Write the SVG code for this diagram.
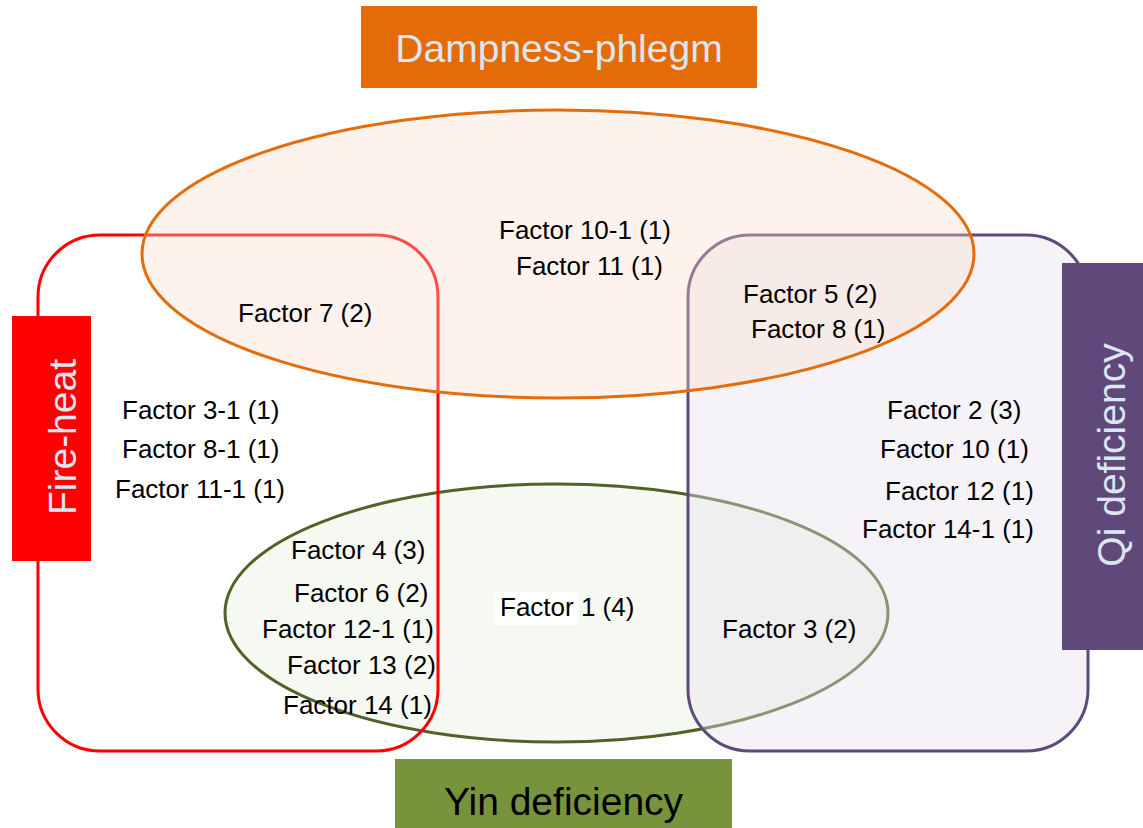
<svg xmlns="http://www.w3.org/2000/svg" width="1143" height="828" viewBox="0 0 1143 828">
<style>
.f{font-family:"Liberation Sans",Arial,sans-serif;font-size:26px;fill:#000}
.lbl{font-family:"Liberation Sans",Arial,sans-serif;font-size:39px}
.light{fill:#dce6f2}
</style>
<rect width="1143" height="828" fill="#fff"/>
<g id="yin-set">
<ellipse cx="556.5" cy="613" rx="331.5" ry="129" fill="#f6f9f1" stroke="#4f6228" stroke-width="3"/>
</g>
<g id="fire-set">
<rect x="38" y="235" width="400" height="516" rx="62" ry="62" fill="none" stroke="#ff0000" stroke-width="3"/>
</g>
<g id="qi-set">
<rect x="688" y="235" width="400" height="516" rx="62" ry="62" fill="#e6e2ee" fill-opacity="0.4" stroke="#5f497a" stroke-width="3"/>
</g>
<g id="damp-set">
<ellipse cx="558" cy="254" rx="416" ry="144" fill="#f9dec8" fill-opacity="0.35" stroke="#e46c0a" stroke-width="3"/>
</g>
<g id="connectors"/>
<g id="damp-label">
<rect x="361" y="6" width="396" height="82" fill="#e36c09"/>
<text class="lbl light" x="559" y="62" text-anchor="middle">Dampness-phlegm</text>
</g>
<g id="fire-label">
<rect x="12" y="316" width="79" height="245" fill="#ff0000"/>
<text class="lbl light" font-size="38" text-anchor="middle" transform="translate(76,437) rotate(-90)">Fire-heat</text>
</g>
<g id="qi-label">
<rect x="1062" y="263" width="81" height="387" fill="#5f497a"/>
<text class="lbl light" text-anchor="middle" transform="translate(1125,455) rotate(-90)">Qi deficiency</text>
</g>
<g id="yin-label">
<rect x="395" y="759" width="337" height="69" fill="#77933c"/>
<text class="lbl" fill="#000" x="563.5" y="815" text-anchor="middle">Yin deficiency</text>
</g>
<g id="factors">
<text class="f" x="499" y="239">Factor 10-1 (1)</text>
<text class="f" x="516" y="275">Factor 11 (1)</text>
<text class="f" x="238" y="322">Factor 7 (2)</text>
<text class="f" x="743" y="303">Factor 5 (2)</text>
<text class="f" x="751" y="338">Factor 8 (1)</text>
<text class="f" x="122" y="419">Factor 3-1 (1)</text>
<text class="f" x="122" y="458">Factor 8-1 (1)</text>
<text class="f" x="115" y="498">Factor 11-1 (1)</text>
<text class="f" x="291" y="559">Factor 4 (3)</text>
<text class="f" x="294" y="602">Factor 6 (2)</text>
<text class="f" x="262" y="638">Factor 12-1 (1)</text>
<text class="f" x="287" y="674">Factor 13 (2)</text>
<text class="f" x="283" y="714">Factor 14 (1)</text>
<rect x="494" y="592" width="84" height="33" fill="#fff"/>
<text class="f" x="500" y="616">Factor 1 (4)</text>
<text class="f" x="722" y="638">Factor 3 (2)</text>
<text class="f" x="887" y="419">Factor 2 (3)</text>
<text class="f" x="880" y="458">Factor 10 (1)</text>
<text class="f" x="885" y="500">Factor 12 (1)</text>
<text class="f" x="862" y="538">Factor 14-1 (1)</text>
</g>
</svg>
